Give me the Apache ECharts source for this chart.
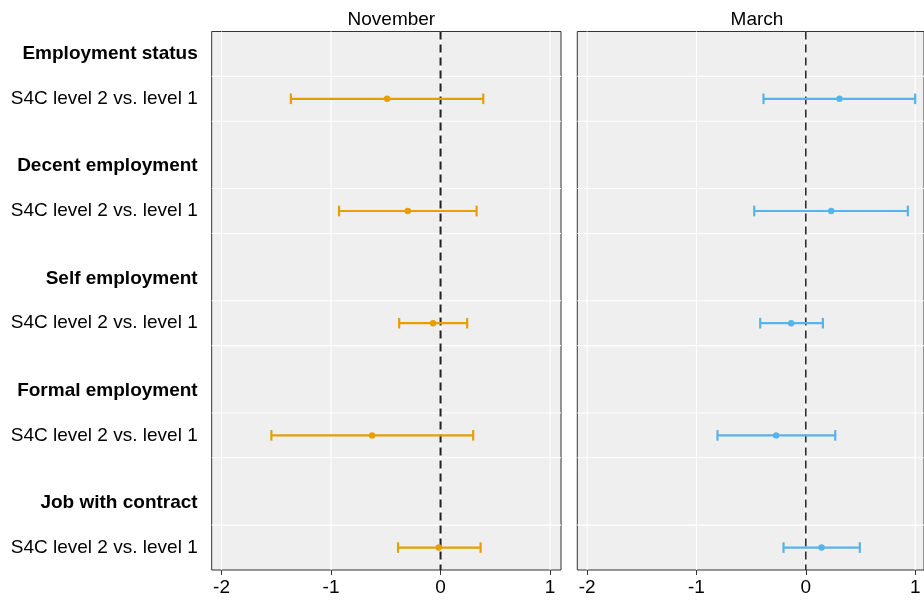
<!DOCTYPE html>
<html>
<head>
<meta charset="utf-8">
<script src="https://cdn.jsdelivr.net/npm/echarts@6/dist/echarts.min.js"></script>
<style>html,body{margin:0;padding:0;background:#fff;}#c{width:924px;height:604px;}</style>
</head>
<body>
<div id="c"></div>
<script>
const panels = ['November', 'March'];
const groups = ['Employment status', 'Decent employment', 'Self employment', 'Formal employment', 'Job with contract'];
const contrastLabel = 'S4C level 2 vs. level 1';
const xTicks = [-2, -1, 0, 1];
const novLow  = [-1.367, -0.927, -0.378, -1.545, -0.388];
const novEst  = [-0.488, -0.299, -0.068, -0.625, -0.016];
const novHigh = [0.390, 0.329, 0.243, 0.298, 0.366];
const marLow  = [-0.387, -0.472, -0.417, -0.808, -0.204];
const marEst  = [0.308, 0.232, -0.134, -0.271, 0.144];
const marHigh = [1.000, 0.933, 0.156, 0.269, 0.494];
const colors = ['#E69F00', '#56B4E9'];

const FONT = 'Liberation Sans, Arial, Helvetica, sans-serif';
const rowY = i => 21 - 5 * i;
const headY = i => rowY(i) + 2;
const labelMap = {};
groups.forEach((g, i) => { labelMap[rowY(i)] = contrastLabel; labelMap[headY(i)] = '{b|' + g + '}'; });
const labelVals = Object.keys(labelMap).map(Number);
const tickVals = groups.map((g, i) => rowY(i));
const hLines = [];
groups.forEach((g, i) => { [rowY(i) + 1, rowY(i) - 1].forEach(v => { if (v > 0 && v < 24) hLines.push([v]); }); });

// panel geometry: the right panel is cut off by the canvas edge
const gridW = 349.3;
const xMin = -2.09, xMaxFull = 1.10;
const rightW = 347.2;
const xMaxRight = xMin + (xMaxFull - xMin) * rightW / gridW;
const grids = [
  {left: 211.7, top: 31.5, width: gridW, height: 538.5},
  {left: 577.3, top: 31.5, width: rightW, height: 538.5}
].map(g => Object.assign(g, {show: true, backgroundColor: '#efefef', borderColor: '#333', borderWidth: 1, containLabel: false}));

const xAxes = [0, 1].map(k => ({
  type: 'value', gridIndex: k, min: xMin, max: k === 0 ? xMaxFull : xMaxRight,
  axisLine: {show: false}, splitLine: {show: false},
  axisTick: {show: true, customValues: xTicks, length: 5, lineStyle: {color: '#333', width: 1}},
  axisLabel: {customValues: xTicks, margin: 8, fontSize: 19, color: '#000', fontFamily: FONT}
}));
const yAxes = [0, 1].map(k => ({
  type: 'value', gridIndex: k, min: 0, max: 24,
  axisLine: {show: false}, splitLine: {show: false},
  axisTick: {show: k === 0, customValues: tickVals, length: 7, lineStyle: {color: '#333', width: 1}},
  axisLabel: {show: k === 0, customValues: labelVals, margin: 14, fontSize: 19, color: '#000', fontFamily: FONT,
    formatter: v => labelMap[Math.round(v)] || '',
    rich: {b: {fontWeight: 'bold', fontSize: 19, color: '#000', fontFamily: FONT}}}
}));

const series = [];
[0, 1].forEach(k => {
  series.push({
    type: 'custom', xAxisIndex: k, yAxisIndex: k, silent: true, z: 1,
    data: hLines,
    renderItem: (params, api) => {
      const cs = params.coordSys;
      const y = api.coord([0, api.value(0)])[1];
      return {type: 'line', shape: {x1: cs.x, y1: y, x2: cs.x + cs.width, y2: y}, style: {stroke: '#ffffff', lineWidth: 1.1}};
    }
  });
  series.push({
    type: 'custom', xAxisIndex: k, yAxisIndex: k, silent: true, z: 1,
    data: xTicks.map(v => [v]),
    renderItem: (params, api) => {
      const cs = params.coordSys;
      const x = api.coord([api.value(0), 0])[0];
      return {type: 'line', shape: {x1: x, y1: cs.y, x2: x, y2: cs.y + cs.height}, style: {stroke: '#ffffff', lineWidth: 1.1}};
    }
  });
  series.push({
    type: 'custom', xAxisIndex: k, yAxisIndex: k, silent: true, z: 2,
    data: [[0]],
    renderItem: (params, api) => {
      const cs = params.coordSys;
      const x = api.coord([api.value(0), 0])[0];
      return {type: 'line', shape: {x1: x, y1: cs.y, x2: x, y2: cs.y + cs.height},
        style: {stroke: k === 0 ? '#222' : '#000', lineWidth: k === 0 ? 2 : 1.3, lineDash: [8, 5]}};
    }
  });
  const lo = k === 0 ? novLow : marLow, es = k === 0 ? novEst : marEst, hi = k === 0 ? novHigh : marHigh;
  const color = colors[k];
  series.push({
    type: 'custom', name: panels[k], xAxisIndex: k, yAxisIndex: k, z: 3,
    data: groups.map((g, i) => [lo[i], es[i], hi[i], rowY(i)]),
    encode: {x: [0, 1, 2], y: 3},
    renderItem: (params, api) => {
      const yv = api.value(3);
      const pL = api.coord([api.value(0), yv]);
      const pE = api.coord([api.value(1), yv]);
      const pH = api.coord([api.value(2), yv]);
      const h = 5.3;
      const st = {stroke: color, lineWidth: 2.2};
      return {type: 'group', children: [
        {type: 'line', shape: {x1: pL[0], y1: pL[1], x2: pH[0], y2: pH[1]}, style: st},
        {type: 'line', shape: {x1: pL[0], y1: pL[1] - h, x2: pL[0], y2: pL[1] + h}, style: st},
        {type: 'line', shape: {x1: pH[0], y1: pH[1] - h, x2: pH[0], y2: pH[1] + h}, style: st},
        {type: 'circle', shape: {cx: pE[0], cy: pE[1], r: 3.2}, style: {fill: color}}
      ]};
    }
  });
});

const chart = echarts.init(document.getElementById('c'), null, {renderer: 'canvas'});
chart.setOption({
  animation: false,
  backgroundColor: '#ffffff',
  title: panels.map((p, k) => ({
    text: p, left: 211.7 + k * 365.6 + gridW / 2, top: 5, textAlign: 'center',
    textStyle: {fontSize: 19, fontWeight: 'normal', color: '#000', fontFamily: FONT}
  })),
  grid: grids, xAxis: xAxes, yAxis: yAxes, series: series
});
</script>
</body>
</html>
